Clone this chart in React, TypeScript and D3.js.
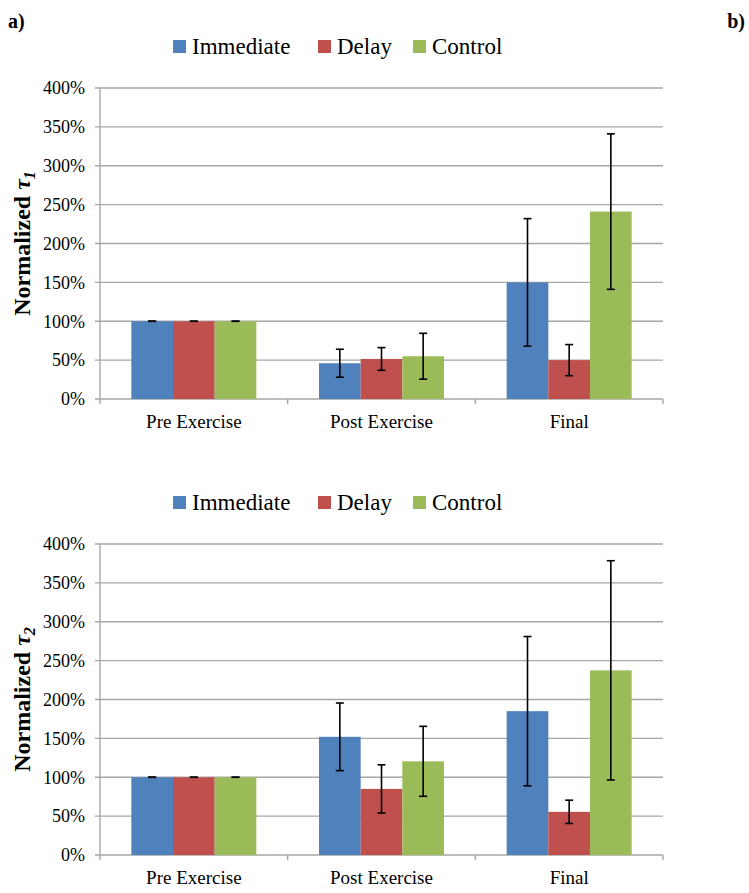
import * as d3 from 'd3';
import * as React from 'react';

const width = 749;
const height = 893;

const groups = ['Pre Exercise', 'Post Exercise', 'Final'];
const seriesNames = ['Immediate', 'Delay', 'Control'];
const colors = ['#4F81BD', '#C0504D', '#9BBB59'];
const yTicks = [0, 50, 100, 150, 200, 250, 300, 350, 400];

// tau 1 (panel top)
const tau1Immediate = [100, 46, 150];
const tau1ImmediateErr = [0, 18, 82];
const tau1Delay = [100, 51.5, 50];
const tau1DelayErr = [0, 14.6, 20];
const tau1Control = [100, 55, 241];
const tau1ControlErr = [0, 29.5, 100];

// tau 2 (panel bottom)
const tau2Immediate = [100, 152, 185];
const tau2ImmediateErr = [0, 43.5, 96];
const tau2Delay = [100, 85, 55.5];
const tau2DelayErr = [0, 31, 15];
const tau2Control = [100, 120.5, 237.5];
const tau2ControlErr = [0, 45, 141];

const font = "'Liberation Serif', Tinos, 'DejaVu Serif', serif";
const margin = { left: 100, right: 86 };

type PanelProps = {
  top: number;
  sub: string;
  values: number[][];
  errors: number[][];
};

const Panel = ({ top, sub, values, errors }: PanelProps) => {
  const plotTop = top + 42;
  const plotBottom = top + 353;

  const x = d3
    .scaleBand<string>()
    .domain(groups)
    .range([margin.left, width - margin.right]);

  const inner = d3
    .scaleBand<string>()
    .domain(seriesNames)
    .range([x.bandwidth() * 0.167, x.bandwidth() * 0.833]);

  const y = d3.scaleLinear().domain([0, 400]).range([plotBottom, plotTop]);

  // legend layout
  const legendX = [173, 318, 413];

  return (
    <g style={{ fontFamily: font }}>
      {/* legend */}
      {seriesNames.map((s, i) => (
        <g key={s} transform={`translate(${legendX[i]},${top})`}>
          <rect x={0} y={-6} width={13} height={13} fill={colors[i]} />
          <text x={19} y={8} fontSize={23} fill="#000">
            {s}
          </text>
        </g>
      ))}

      {/* gridlines + y labels */}
      {yTicks.map(t => (
        <g key={t}>
          <line
            x1={margin.left - 5}
            x2={width - margin.right}
            y1={y(t)}
            y2={y(t)}
            stroke="#A6A6A6"
            strokeWidth={1.4}
          />
          <text x={85} y={y(t)} dy="0.35em" textAnchor="end" fontSize={18}>
            {t}%
          </text>
        </g>
      ))}

      {/* y axis line */}
      <line
        x1={margin.left}
        x2={margin.left}
        y1={plotTop}
        y2={plotBottom}
        stroke="#A6A6A6"
        strokeWidth={1.4}
      />

      {/* category separators */}
      {groups.map(g => (
        <line
          key={g}
          x1={(x(g) as number) + x.bandwidth()}
          x2={(x(g) as number) + x.bandwidth()}
          y1={plotBottom}
          y2={plotBottom + 5}
          stroke="#A6A6A6"
          strokeWidth={1.4}
        />
      ))}
      <line
        x1={margin.left}
        x2={margin.left}
        y1={plotBottom}
        y2={plotBottom + 5}
        stroke="#A6A6A6"
        strokeWidth={1.4}
      />

      {/* bars */}
      {seriesNames.map((s, si) =>
        groups.map((g, gi) => {
          const bx = (x(g) as number) + (inner(s) as number);
          const v = values[si][gi];
          return (
            <rect
              key={s + g}
              x={bx}
              y={y(v)}
              width={inner.bandwidth()}
              height={plotBottom - y(v)}
              fill={colors[si]}
            />
          );
        }),
      )}

      {/* error bars */}
      {seriesNames.map((s, si) =>
        groups.map((g, gi) => {
          const cx = (x(g) as number) + (inner(s) as number) + inner.bandwidth() / 2;
          const v = values[si][gi];
          const e = errors[si][gi];
          const hi = y(v + e);
          const lo = y(v - e);
          return (
            <g key={'e' + s + g} stroke="#000" strokeWidth={1.6}>
              <line x1={cx} x2={cx} y1={hi} y2={lo} />
              <line x1={cx - 4} x2={cx + 4} y1={hi} y2={hi} />
              <line x1={cx - 4} x2={cx + 4} y1={lo} y2={lo} />
            </g>
          );
        }),
      )}

      {/* category labels */}
      {groups.map(g => (
        <text
          key={'l' + g}
          x={(x(g) as number) + x.bandwidth() / 2}
          y={plotBottom + 29}
          textAnchor="middle"
          fontSize={19}
        >
          {g}
        </text>
      ))}

      {/* y title */}
      <text
        transform={`translate(30,${(plotTop + plotBottom) / 2}) rotate(-90)`}
        textAnchor="middle"
        fontSize={24}
        fontWeight="bold"
      >
        Normalized{' '}
        <tspan fontStyle="italic">τ</tspan>
        <tspan fontStyle="italic" fontSize={16} dy={5}>
          {sub}
        </tspan>
      </text>
    </g>
  );
};

export default function App() {
  return (
    <svg
      width={width}
      height={height}
      style={{ position: 'absolute', left: 0, top: 0, background: '#fff', fontFamily: font }}
    >
      <rect width={width} height={height} fill="#fff" />
      <text x={8} y={28} fontSize={20} fontWeight="bold">
        a)
      </text>
      <text x={745} y={28} fontSize={20} fontWeight="bold" textAnchor="end">
        b)
      </text>
      <Panel
        top={46}
        sub="1"
        values={[tau1Immediate, tau1Delay, tau1Control]}
        errors={[tau1ImmediateErr, tau1DelayErr, tau1ControlErr]}
      />
      <Panel
        top={502}
        sub="2"
        values={[tau2Immediate, tau2Delay, tau2Control]}
        errors={[tau2ImmediateErr, tau2DelayErr, tau2ControlErr]}
      />
    </svg>
  );
}
